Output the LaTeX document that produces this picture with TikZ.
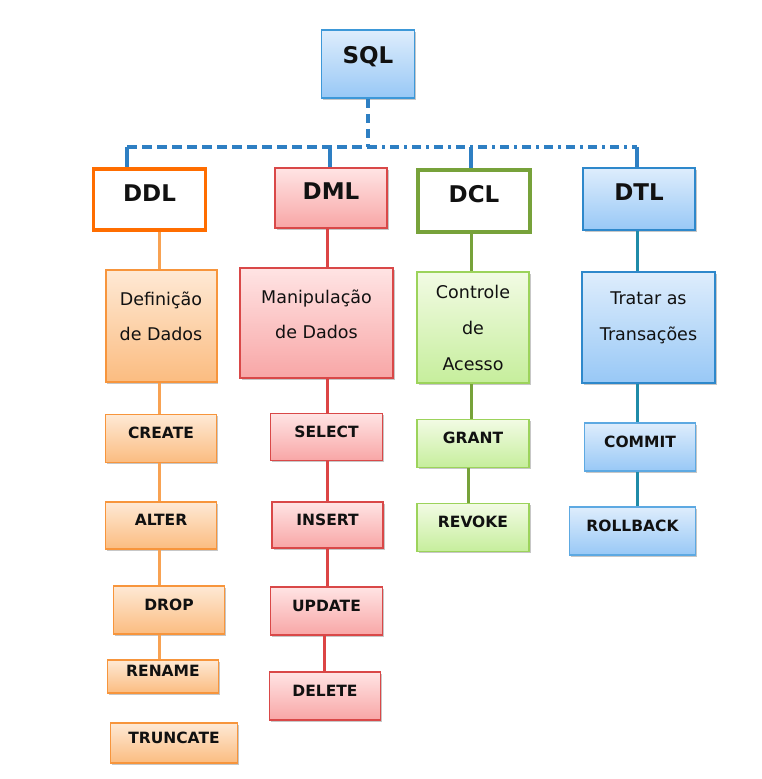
\documentclass[tikz,border=0pt]{standalone}
\usepackage{fontspec}
\setmainfont{DejaVu Sans}
\usetikzlibrary{shadows}
\definecolor{txt}{HTML}{111111}
\definecolor{busc}{HTML}{2E7FC3}
\definecolor{sqlB}{HTML}{3D98D8}
\definecolor{oHead}{HTML}{FF6D00}
\definecolor{oB}{HTML}{F7953C}
\definecolor{oT}{HTML}{FEE9D5}
\definecolor{oBot}{HTML}{FBBC80}
\definecolor{oLine}{HTML}{F8A252}
\definecolor{rB}{HTML}{D94848}
\definecolor{rT}{HTML}{FFE4E4}
\definecolor{rBot}{HTML}{F8A6A6}
\definecolor{rLine}{HTML}{DC4545}
\definecolor{gHead}{HTML}{77A23A}
\definecolor{gB}{HTML}{9CD35B}
\definecolor{gT}{HTML}{F2FBE4}
\definecolor{gBot}{HTML}{C6EE9C}
\definecolor{gLine}{HTML}{77A23A}
\definecolor{bB}{HTML}{2E88CB}
\definecolor{bSm}{HTML}{5DA9E2}
\definecolor{bT}{HTML}{DEEDFC}
\definecolor{bBot}{HTML}{98C8F6}
\definecolor{bLine}{HTML}{1F8BA8}
\begin{document}
\begin{tikzpicture}[x=1pt,y=-1pt,
  shd/.style={drop shadow={shadow xshift=1.5pt,shadow yshift=-1.5pt,opacity=.22,fill=black}},
  box/.style={rectangle,inner sep=0pt,text=txt,shd},
  headfont/.style={font=\bfseries\fontsize{23}{23}\selectfont,text height=17pt,text depth=14pt},
  itemfont/.style={font=\bfseries\fontsize{15.5}{15.5}\selectfont,text height=11pt,text depth=11pt},
  descfont/.style={font=\fontsize{17.5}{35}\selectfont,align=center,text=txt},
  obox/.style={box,itemfont,draw=oB,line width=1.8pt,top color=oT,bottom color=oBot},
  rbox/.style={box,itemfont,draw=rB,line width=1.8pt,top color=rT,bottom color=rBot},
  gbox/.style={box,itemfont,draw=gB,line width=1.8pt,top color=gT,bottom color=gBot},
  bbox/.style={box,itemfont,draw=bSm,line width=1.5pt,top color=bT,bottom color=bBot},
  busline/.style={draw=busc,line width=3.4pt},
  stubline/.style={draw=busc,line width=3.2pt},
  oconn/.style={draw=oLine,line width=3pt},
  rconn/.style={draw=rLine,line width=3pt},
  gconn/.style={draw=gLine,line width=3pt},
  bconn/.style={draw=bLine,line width=3pt}]
\useasboundingbox (0,0) rectangle (761,779);

% top level
\node[box,headfont,text depth=18pt,minimum width=93pt,minimum height=68pt,draw=sqlB,line width=1.6pt,top color=bT,bottom color=bBot] (sql) at (368,64) {SQL};

% category heads
\node[box,headfont,minimum width=112pt,minimum height=61pt,draw=oHead,line width=3.2pt,fill=white] (ddl) at (149.5,199.5) {DDL};
\node[box,headfont,minimum width=112pt,minimum height=60pt,draw=rB,line width=2.2pt,top color=rT,bottom color=rBot] (dml) at (331,198) {DML};
\node[box,headfont,minimum width=112pt,minimum height=62pt,draw=gHead,line width=3.2pt,fill=white] (dcl) at (474,201) {DCL};
\node[box,headfont,minimum width=112pt,minimum height=62pt,draw=bB,line width=2.4pt,top color=bT,bottom color=bBot] (dtl) at (639,199) {DTL};

% description boxes
\node[box,minimum width=111pt,minimum height=112pt,draw=oB,line width=2pt,top color=oT,bottom color=oBot] (def) at (161,326) {};
\node[descfont] (deftxt) at ([yshift=10pt]def.center) {Definição\\de Dados};
\node[box,minimum width=153pt,minimum height=110pt,draw=rB,line width=2pt,top color=rT,bottom color=rBot] (man) at (316.5,323) {};
\node[descfont] (mantxt) at ([yshift=9pt]man.center) {Manipulação\\de Dados};
\node[box,minimum width=112pt,minimum height=111pt,draw=gB,line width=2pt,top color=gT,bottom color=gBot] (con) at (473,327.5) {};
\node[descfont,font=\fontsize{17.5}{36}\selectfont] (contxt) at ([yshift=0pt]con.center) {Controle\\de\\Acesso};
\node[box,minimum width=133pt,minimum height=111pt,draw=bB,line width=2.2pt,top color=bT,bottom color=bBot] (tra) at (648.5,327.5) {};
\node[descfont,font=\fontsize{17.5}{36}\selectfont] (tratxt) at ([yshift=10pt]tra.center) {Tratar as\\Transações};

% DDL items
\node[obox,minimum width=111pt,minimum height=48pt] (create) at (161,438.5) {CREATE};
\node[obox,minimum width=111pt,minimum height=47pt] (alter) at (161,525.5) {ALTER};
\node[obox,minimum width=111pt,minimum height=48pt] (drop) at (169,610) {DROP};
\node[obox,minimum width=111pt,minimum height=33pt] (rename) at (163,676.5) {RENAME};
\node[obox,minimum width=127pt,minimum height=40pt] (truncate) at (174,743) {TRUNCATE};

% DML items
\node[rbox,minimum width=112pt,minimum height=47pt] (select) at (326.5,437) {SELECT};
\node[rbox,minimum width=111pt,minimum height=46pt] (insert) at (327.5,525) {INSERT};
\node[rbox,minimum width=112pt,minimum height=48pt] (update) at (326.5,611) {UPDATE};
\node[rbox,minimum width=111pt,minimum height=48pt] (delete) at (325,696) {DELETE};

% DCL items
\node[gbox,minimum width=112pt,minimum height=48pt] (grant) at (473,443.5) {GRANT};
\node[gbox,minimum width=112pt,minimum height=48pt] (revoke) at (473,527.5) {REVOKE};

% DTL items
\node[bbox,minimum width=111pt,minimum height=48pt] (commit) at (640,447) {COMMIT};
\node[bbox,minimum width=126pt,minimum height=48pt] (rollback) at (632.5,531) {ROLLBACK};

% bus coordinates
\coordinate (bus) at (368,147);
\coordinate (b1) at (127,147);
\coordinate (b2) at (330,147);
\coordinate (b3) at (471,147);
\coordinate (b4) at (637,147);

% bus
\draw[busline,dash pattern=on 9pt off 6pt] (sql.south) -- (bus);
\draw[busline,dash pattern=on 10pt off 5pt] (b1) -- (bus);
\draw[busline,dash pattern=on 9pt off 5pt on 3pt off 5pt] (bus) -- (b4);
\draw[stubline] (b1) -- (ddl.north -| b1);
\draw[stubline] (b2) -- (dml.north -| b2);
\draw[stubline] (b3) -- (dcl.north -| b3);
\draw[stubline] (b4) -- (dtl.north -| b4);

% column coordinates
\coordinate (c1) at (159,0);
\coordinate (c2) at (327,0);
\coordinate (c2b) at (324,0);
\coordinate (c3) at (471,0);
\coordinate (c3b) at (468,0);
\coordinate (c4) at (637,0);

% DDL column
\draw[oconn] (ddl.south -| c1) -- (def.north -| c1);
\draw[oconn] (def.south -| c1) -- (create.north -| c1);
\draw[oconn] (create.south -| c1) -- (alter.north -| c1);
\draw[oconn] (alter.south -| c1) -- (drop.north -| c1);
\draw[oconn] (drop.south -| c1) -- (rename.north -| c1);

% DML column
\draw[rconn] (dml.south -| c2) -- (man.north -| c2);
\draw[rconn] (man.south -| c2) -- (select.north -| c2);
\draw[rconn] (select.south -| c2) -- (insert.north -| c2);
\draw[rconn] (insert.south -| c2) -- (update.north -| c2);
\draw[rconn] (update.south -| c2b) -- (delete.north -| c2b);

% DCL column
\draw[gconn] (dcl.south -| c3) -- (con.north -| c3);
\draw[gconn] (con.south -| c3) -- (grant.north -| c3);
\draw[gconn] (grant.south -| c3b) -- (revoke.north -| c3b);

% DTL column
\draw[bconn] (dtl.south -| c4) -- (tra.north -| c4);
\draw[bconn] (tra.south -| c4) -- (commit.north -| c4);
\draw[bconn] (commit.south -| c4) -- (rollback.north -| c4);
\end{tikzpicture}
\end{document}
